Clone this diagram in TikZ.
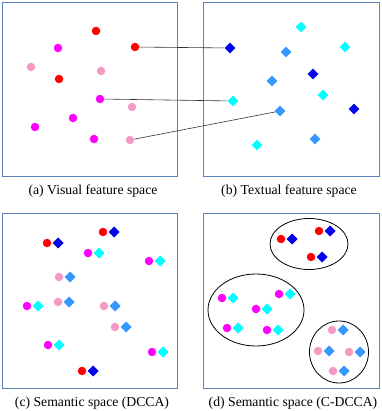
\documentclass[tikz,border=0pt]{standalone}
\usepackage{fontspec}
\setmainfont{Liberation Serif}
\usetikzlibrary{shapes.geometric,positioning}

\definecolor{frameblue}{HTML}{5B82B8}
\definecolor{vred}{HTML}{FF0000}
\definecolor{vmag}{HTML}{FF00FF}
\definecolor{vpink}{HTML}{F59AC2}
\definecolor{tcyan}{HTML}{00FFFF}
\definecolor{tsky}{HTML}{3399FF}
\definecolor{tblue}{HTML}{0000EE}

\begin{document}
\begin{tikzpicture}[
    x=1pt, y=-1pt,
    panel/.style={rectangle, draw=frameblue, line width=1pt, inner sep=0pt},
    dot/.style={circle, fill=#1, inner sep=0pt, minimum size=8.5pt},
    dia/.style={diamond, fill=#1, inner sep=0pt, minimum size=11pt},
    cluster/.style={ellipse, draw, line width=0.8pt, inner sep=0pt},
    caption/.style={font=\fontsize{13.7}{15}\selectfont, inner sep=0pt},
    link/.style={draw=black!80, line width=0.6pt}
]
\useasboundingbox (0,0) rectangle (381,411);

% panels
\node[panel, minimum width=175pt, minimum height=174pt] (pa) at (89.5,90) {};
\node[panel, minimum width=176pt, minimum height=174pt] (pb) at (291,90) {};
\node[panel, minimum width=175pt, minimum height=175pt] (pc) at (89.5,300.5) {};
\node[panel, minimum width=176pt, minimum height=175pt] (pd) at (291,300.5) {};
\node[caption] (capa) at (93,191) {(a) Visual feature space};
\node[caption] (capb) at (289,191) {(b) Textual feature space};
\node[caption] (capc) at (92,403) {(c) Semantic space (DCCA)};
\node[caption] (capd) at (293,403) {(d) Semantic space (C-DCCA)};

% (a) visual features
\node[dot=vred] (va1) at (96,31) {};
\node[dot=vred] (va2) at (135,47) {};
\node[dot=vred] (va3) at (59,79) {};
\node[dot=vmag] (va4) at (58,48) {};
\node[dot=vmag] (va5) at (100,99) {};
\node[dot=vmag] (va6) at (73,118) {};
\node[dot=vmag] (va7) at (35,127) {};
\node[dot=vmag] (va8) at (94,139) {};
\node[dot=vpink] (va9) at (31,67) {};
\node[dot=vpink] (va10) at (101,71) {};
\node[dot=vpink] (va11) at (132,107) {};
\node[dot=vpink] (va12) at (130,140) {};

% (b) textual features
\node[dia=tcyan] (tb1) at (301,27) {};
\node[dia=tcyan] (tb2) at (345,47) {};
\node[dia=tcyan] (tb3) at (323,95) {};
\node[dia=tcyan] (tb4) at (233,101) {};
\node[dia=tcyan] (tb5) at (257,145) {};
\node[dia=tsky] (tb6) at (286,52) {};
\node[dia=tsky] (tb7) at (272,81) {};
\node[dia=tsky] (tb8) at (280,111) {};
\node[dia=tsky] (tb9) at (315,139) {};
\node[dia=tblue] (tb10) at (230,48) {};
\node[dia=tblue] (tb11) at (313,74) {};
\node[dia=tblue] (tb12) at (354,109) {};

\draw[link] (va2) -- (tb10);
\draw[link] (va5) -- (tb4);
\draw[link] (va12) -- (tb8);

% (c) DCCA pairs
\node[dot=vred] (vc1) at (47,243) {};   \node[dia=tblue, right=1pt of vc1] (tc1) {};
\node[dot=vred] (vc2) at (103,232) {};  \node[dia=tblue, right=1pt of vc2] (tc2) {};
\node[dot=vmag] (vc3) at (88,253) {};   \node[dia=tcyan, right=1pt of vc3] (tc3) {};
\node[dot=vmag] (vc4) at (149,261) {};  \node[dia=tcyan, right=1pt of vc4] (tc4) {};
\node[dot=vpink] (vc5) at (59,277) {};  \node[dia=tsky, right=1pt of vc5] (tc5) {};
\node[dot=vmag] (vc6) at (27,306) {};   \node[dia=tcyan, right=1pt of vc6] (tc6) {};
\node[dot=vpink] (vc7) at (58,302) {};  \node[dia=tsky, right=1pt of vc7] (tc7) {};
\node[dot=vpink] (vc8) at (104,306) {}; \node[dia=tsky, right=1pt of vc8] (tc8) {};
\node[dot=vpink] (vc9) at (115,327) {}; \node[dia=tsky, right=1pt of vc9] (tc9) {};
\node[dot=vmag] (vc10) at (48,345) {};  \node[dia=tcyan, right=1pt of vc10] (tc10) {};
\node[dot=vmag] (vc11) at (152,352) {}; \node[dia=tcyan, right=1pt of vc11] (tc11) {};
\node[dot=vred] (vc12) at (82,371) {};  \node[dia=tblue, right=1pt of vc12] (tc12) {};

% (d) C-DCCA clusters
\node[cluster, minimum width=78pt, minimum height=51pt] (g1) at (309,244) {};
\node[cluster, minimum width=96pt, minimum height=72pt] (g2) at (256,310) {};
\node[cluster, minimum width=59pt, minimum height=62pt] (g3) at (339,352) {};

\node[dot=vred] (vd1) at (281,239) {};  \node[dia=tblue, right=1pt of vd1] (td1) {};
\node[dot=vred] (vd2) at (319,231) {};  \node[dia=tblue, right=1pt of vd2] (td2) {};
\node[dot=vred] (vd3) at (311,257) {};  \node[dia=tblue, right=1pt of vd3] (td3) {};
\node[dot=vmag] (vd4) at (222,298) {};  \node[dia=tcyan, right=1pt of vd4] (td4) {};
\node[dot=vmag] (vd5) at (279,294) {};  \node[dia=tcyan, right=1pt of vd5] (td5) {};
\node[dot=vmag] (vd6) at (256,309) {};  \node[dia=tcyan, right=1pt of vd6] (td6) {};
\node[dot=vmag] (vd7) at (227,328) {};  \node[dia=tcyan, right=1pt of vd7] (td7) {};
\node[dot=vmag] (vd8) at (267,330) {};  \node[dia=tcyan, right=1pt of vd8] (td8) {};
\node[dot=vpink] (vd9) at (332,330) {}; \node[dia=tsky, right=1pt of vd9] (td9) {};
\node[dot=vpink] (vd10) at (318,351) {};\node[dia=tsky, right=1pt of vd10] (td10) {};
\node[dot=vpink] (vd11) at (349,352) {};\node[dia=tsky, right=1pt of vd11] (td11) {};
\node[dot=vpink] (vd12) at (333,371) {};\node[dia=tsky, right=1pt of vd12] (td12) {};
\end{tikzpicture}
\end{document}
